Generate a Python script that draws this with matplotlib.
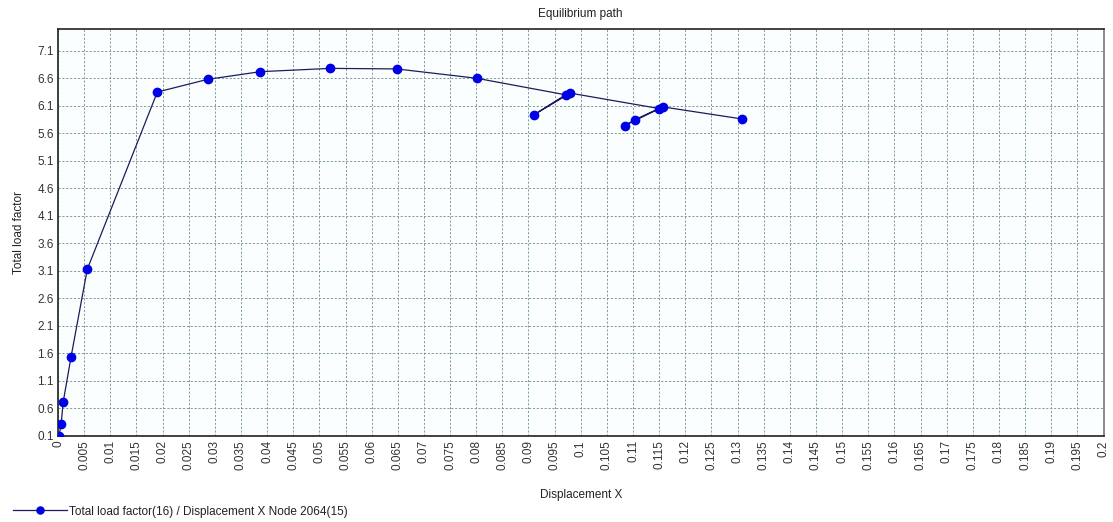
import numpy as np
import matplotlib
matplotlib.use("Agg")
import matplotlib.pyplot as plt

plt.rcParams['font.family'] = ['Liberation Sans', 'DejaVu Sans']

disp_x = [0.0002, 0.0006, 0.0010, 0.0025, 0.0056, 0.0190, 0.0286, 0.0387,
          0.0521, 0.0648, 0.0801, 0.0971, 0.0911, 0.0980, 0.1150, 0.1104,
          0.1084, 0.1157, 0.1309]
load_factor = [0.10, 0.32, 0.72, 1.54, 3.13, 6.35, 6.58, 6.72,
               6.78, 6.77, 6.60, 6.30, 5.94, 6.33, 6.05, 5.85,
               5.74, 6.08, 5.86]

x_ticks = [round(0.005 * i, 3) for i in range(41)]
y_ticks = [round(0.1 + 0.5 * i, 1) for i in range(15)]

fig = plt.figure(figsize=(11.13, 5.22), dpi=100)
ax = fig.add_axes([58/1113, 1-436/522, (1103.5-58)/1113, (436-29.3)/522])
ax.set_facecolor('#fbfefe')

ax.plot(disp_x, load_factor, color='#1c1c5a', lw=0.9, marker='o',
        markersize=6.0, markerfacecolor='#0000e6', markeredgecolor='#0000e6',
        label='Total load factor(16) / Displacement X Node 2064(15)', zorder=3)

ax.set_xlim(0, 0.2)
ax.set_ylim(0.1, 7.49)
ax.set_xticks(x_ticks)
ax.set_xticklabels(['%g' % v for v in x_ticks], rotation=90)
ax.set_yticks(y_ticks)
ax.set_yticklabels(['%.1f' % v for v in y_ticks])
ax.tick_params(axis='both', length=0, labelsize=8.5, labelcolor='#333333', pad=3)
ax.grid(True, color='#7f9c9c', linestyle=(0, (2.2, 1.8)), linewidth=0.7)

for s in ['left', 'bottom', 'top']:
    ax.spines[s].set_color('#222222')
    ax.spines[s].set_linewidth(1.2)
ax.spines['right'].set_color('#777777')
ax.spines['right'].set_linewidth(1.2)

ax.set_title('Equilibrium path', fontsize=8.5, color='#222222', pad=9)
ax.set_xlabel('Displacement X', fontsize=8.5, color='#222222', labelpad=14)
ax.set_ylabel('Total load factor', fontsize=8.5, color='#222222', labelpad=9)

leg = fig.legend(loc='lower left', bbox_to_anchor=(0.006, -0.004), frameon=False,
                 fontsize=8.5, handlelength=4.6, handletextpad=0.15,
                 borderaxespad=0.15, markerscale=0.85)
for t in leg.get_texts():
    t.set_color('#222222')

fig.savefig('out.png', dpi=100)
